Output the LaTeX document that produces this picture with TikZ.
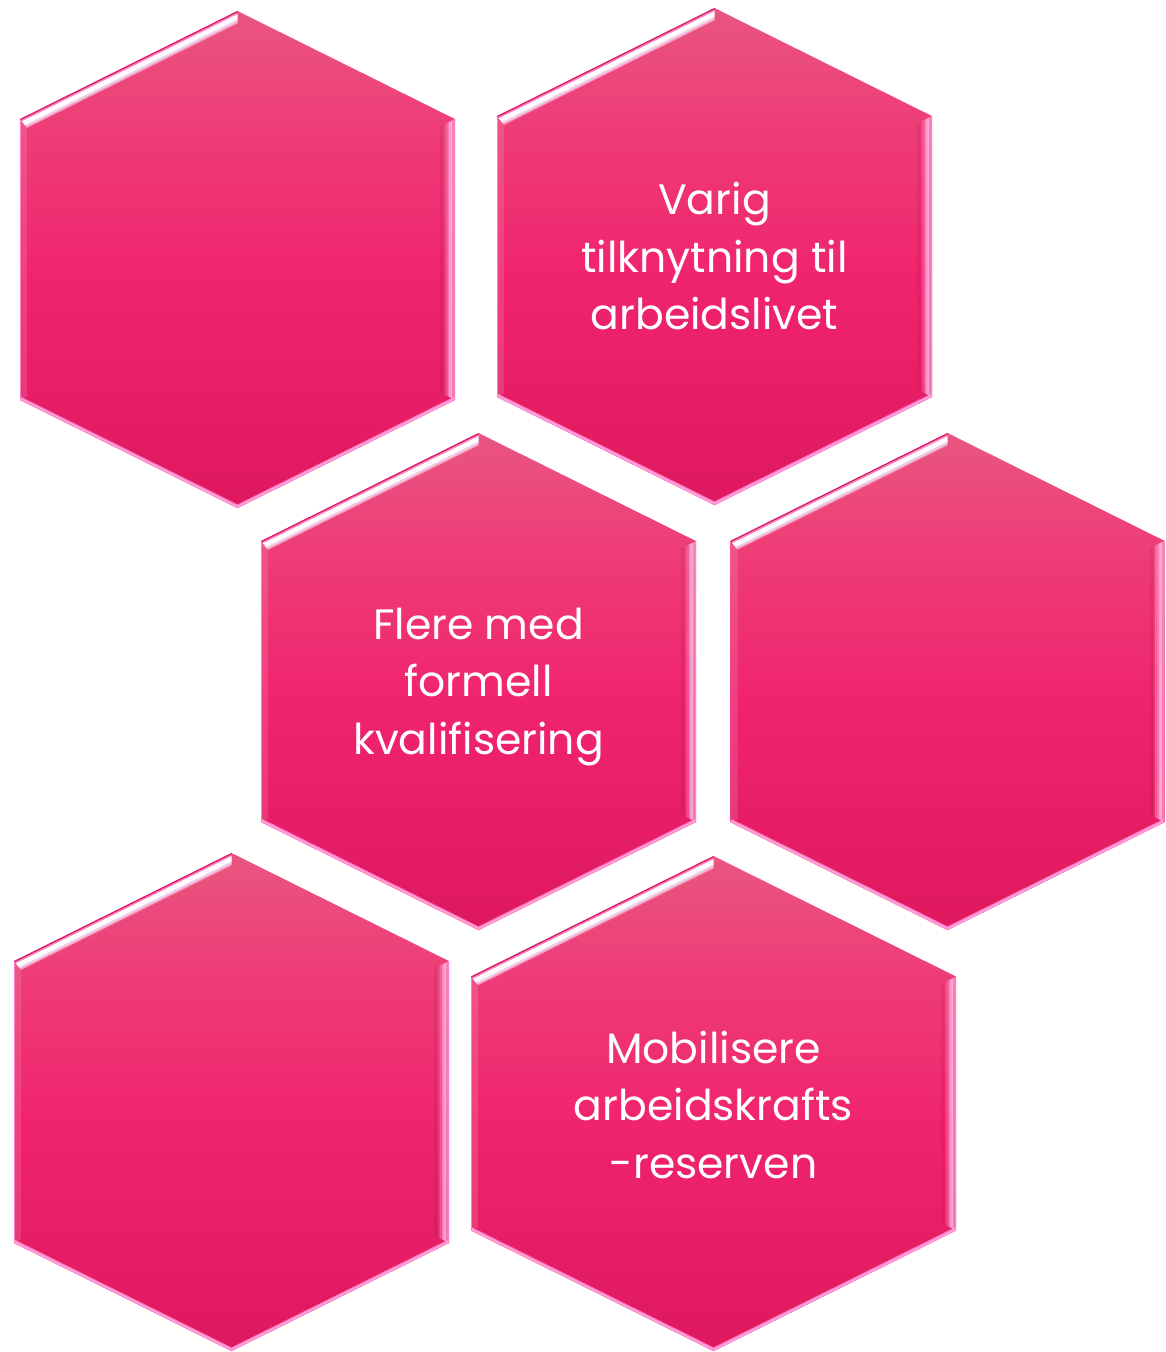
\documentclass[tikz,border=0pt]{standalone}
\usepackage{fontspec}
\setmainfont{Poppins}

\definecolor{hextop}{RGB}{233,86,128}
\definecolor{hexup}{RGB}{238,62,120}
\definecolor{hexmid}{RGB}{240,36,110}
\definecolor{hexbot}{RGB}{222,24,94}
\definecolor{rimpink}{RGB}{255,128,200}
\definecolor{rimglow}{RGB}{255,175,222}
\definecolor{rimdark}{RGB}{214,30,96}
\definecolor{rimlilac}{RGB}{236,206,240}

\pgfdeclareverticalshading{hexshade}{100bp}{color(0bp)=(hexbot); color(25bp)=(hexbot);
  color(48bp)=(hexmid); color(64bp)=(hexup); color(75bp)=(hextop); color(100bp)=(hextop)}

\tikzset{
  hexbody/.style={shading=hexshade},
  hexlabel/.style={text=white, align=center, font=\fontsize{42.5}{57.5}\selectfont},
}

\begin{document}
\begin{tikzpicture}[x=1pt,y=-1pt]
 \useasboundingbox (0,0) rectangle (1165,1352);
 % hexagons: centre x / top / bottom / half width
 \foreach \cx/\ty/\by/\hw in {237.5/11/508/217.5, 714.5/8/505/217.5,
   478.5/433/930/217.5, 947.5/433/930/217, 231.5/853/1351/217.5,
   713.5/856/1351/242.5}{
  \pgfmathsetmacro\sh{0.497*\hw}
  \shade[hexbody] (\cx,\ty) -- (\cx+\hw,\ty+\sh) -- (\cx+\hw,\by-\sh) -- (\cx,\by)
     -- (\cx-\hw,\by-\sh) -- (\cx-\hw,\ty+\sh) -- cycle;
  % bottom rim
  \begin{scope}
   \clip (\cx,\ty) -- (\cx+\hw,\ty+\sh) -- (\cx+\hw,\by-\sh) -- (\cx,\by)
     -- (\cx-\hw,\by-\sh) -- (\cx-\hw,\ty+\sh) -- cycle;
   \draw[rimpink, line width=6.5pt] (\cx-\hw,\by-\sh) -- (\cx,\by) -- (\cx+\hw,\by-\sh);
   \draw[rimglow, line width=3.6pt] (\cx-\hw,\by-\sh) -- (\cx,\by) -- (\cx+\hw,\by-\sh);
   \draw[rimpink, line width=1.4pt] (\cx-\hw,\by-\sh) -- (\cx,\by) -- (\cx+\hw,\by-\sh);
  \end{scope}
  % left rim
  \begin{scope}
   \clip (\cx-\hw,\ty+\sh) -- (\cx-\hw,\by-\sh) -- (\cx-\hw+7,\by-\sh-3.5) -- (\cx-\hw+7,\ty+\sh+8.8) -- cycle;
   \fill[white, opacity=.12] (\cx-\hw,\ty) rectangle (\cx-\hw+7,\by);
   \draw[rimpink, line width=1.4pt] (\cx-\hw,\ty) -- (\cx-\hw,\by);
  \end{scope}
  % top left bevel
  \begin{scope}
   \clip (\cx,\ty) -- (\cx-\hw,\ty+\sh) -- (\cx-\hw+7,\ty+\sh+8.8) -- (\cx,\ty+12.3) -- cycle;
   \foreach \d/\c/\o/\w in {0.7/rimdark/1/1.6, 2.2/rimpink/1/1.7, 3.8/white/1/1.8,
     5.4/white/1/1.8, 7/white/1/1.8, 8.6/rimlilac/1/1.8, 10.2/white/.45/1.8,
     11.7/white/.18/1.6}
     \draw[\c, opacity=\o, line width=\w pt]
       (\cx+20+0.445*\d,\ty-9.94+0.8955*\d) -- (\cx-\hw-20+0.445*\d,\ty+\sh+9.94+0.8955*\d);
  \end{scope}
  % right bevel
  \begin{scope}
   \clip (\cx+\hw,\ty+\sh) -- (\cx+\hw,\by-\sh) -- (\cx+\hw-15,\by-\sh-7.5)
     -- (\cx+\hw-15,\ty+\sh+7.5) -- cycle;
   \foreach \d/\c/\o/\w in {14/black/.06/2, 12/black/.04/2, 10/rimglow/.15/2,
     8.2/rimglow/.35/1.8, 6.6/rimglow/.6/1.7, 5/rimglow/.85/1.7, 3.4/rimglow/.95/1.7,
     1.9/rimglow/.6/1.5, 0.7/rimpink/1/1.4}
     \draw[\c, opacity=\o, line width=\w pt] (\cx+\hw-\d,\ty) -- (\cx+\hw-\d,\by);
  \end{scope}
 }

 \node[hexlabel] (varig) at (714.5,256.5) {Varig\\tilknytning til\\arbeidslivet};
 \node[hexlabel] (flere) at (478.5,687) {Flere med\\formell\\kvalifisering};
 \node[hexlabel] (mobil) at (713.5,1105) {Mobilisere\\arbeidskrafts\\-reserven};
\end{tikzpicture}
\end{document}
